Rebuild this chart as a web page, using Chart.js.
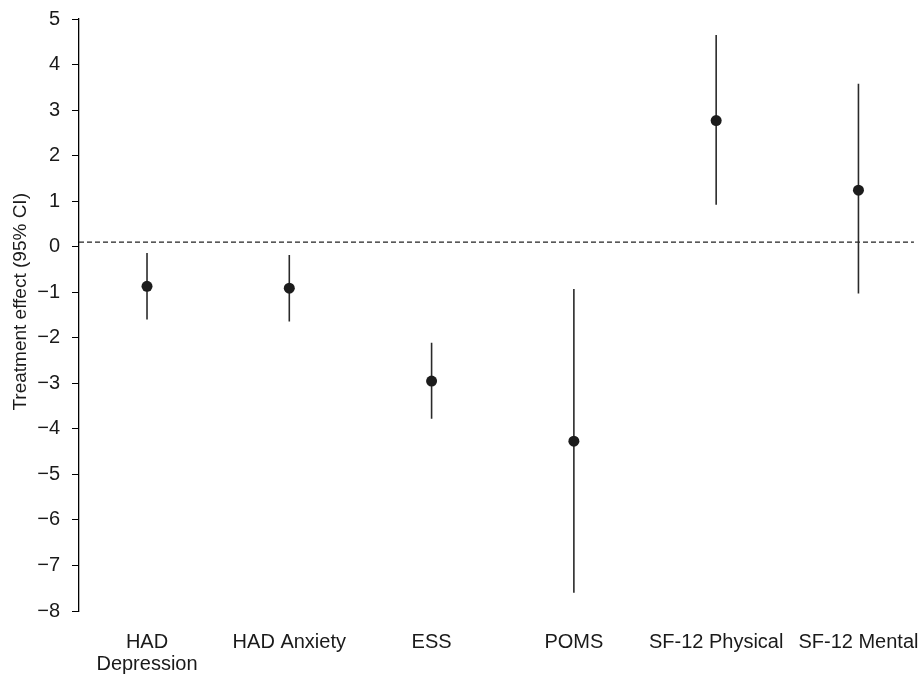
<!DOCTYPE html>
<html>
<head>
<meta charset="utf-8">
<script src="https://cdn.jsdelivr.net/npm/chart.js@4.4.1/dist/chart.umd.min.js"></script>
<style>
  html, body { margin: 0; padding: 0; background: #fff; }
  canvas { display: block; }
</style>
</head>
<body>
<canvas id="c" width="923" height="675"></canvas>
<script>
// ---- Data ----
const categories = ['HAD Depression', 'HAD Anxiety', 'ESS', 'POMS', 'SF-12 Physical', 'SF-12 Mental'];
const tickLabels = [['HAD', 'Depression'], 'HAD Anxiety', 'ESS', 'POMS', 'SF-12 Physical', 'SF-12 Mental'];
const estimates = [-0.87, -0.91, -2.95, -4.27, 2.77, 1.24];
const lowerCI   = [-1.60, -1.64, -3.78, -7.60, 0.92, -1.03];
const upperCI   = [-0.14, -0.18, -2.11, -0.93, 4.65, 3.58];
const referenceValue = 0.1;
const yMin = -8, yMax = 5, yStep = 1;
const xMin = 0.522, xMax = 6.415, refEnd = 6.39;

// ---- Build datasets ----
const pointData = categories.map((c, i) => ({ x: i + 1, y: estimates[i] }));
const ciData = [];
categories.forEach((c, i) => {
  ciData.push({ x: i + 1, y: lowerCI[i] });
  ciData.push({ x: i + 1, y: upperCI[i] });
  ciData.push({ x: i + 1, y: null });
});
const refData = [{ x: xMin, y: referenceValue }, { x: refEnd, y: referenceValue }];

const FONT = "'Liberation Sans', Arial, Helvetica, sans-serif";
const W = 923, H = 675;

new Chart(document.getElementById('c'), {
  type: 'scatter',
  data: {
    datasets: [
      {
        type: 'scatter',
        data: pointData,
        pointRadius: 5.5,
        pointHoverRadius: 5.5,
        backgroundColor: '#1c1c1c',
        borderColor: '#1c1c1c',
        borderWidth: 0
      },
      {
        type: 'line',
        data: ciData,
        borderColor: '#2a2a2a',
        borderWidth: 1.6,
        pointRadius: 0,
        spanGaps: false,
        fill: false
      },
      {
        type: 'line',
        data: refData,
        borderColor: '#222',
        borderWidth: 1.2,
        borderDash: [5, 3],
        pointRadius: 0,
        fill: false
      }
    ]
  },
  options: {
    responsive: false,
    animation: false,
    devicePixelRatio: 1,
    layout: { padding: { top: 19, right: 0, left: 0, bottom: 0 } },
    plugins: { legend: { display: false }, tooltip: { enabled: false } },
    scales: {
      x: {
        type: 'linear',
        min: xMin,
        max: xMax,
        afterBuildTicks: (scale) => {
          scale.ticks = categories.map((c, i) => ({ value: i + 1 }));
        },
        afterFit: (scale) => {
          scale.height = H - 611;
          scale.paddingLeft = 0;
          scale.paddingRight = 0;
        },
        grid: { display: false },
        border: { display: false },
        ticks: {
          autoSkip: false,
          maxRotation: 0,
          padding: 12,
          color: '#1a1a1a',
          font: { family: FONT, size: 20, lineHeight: 1.1 },
          callback: (v) => tickLabels[Math.round(v) - 1]
        }
      },
      y: {
        type: 'linear',
        min: yMin,
        max: yMax,
        afterFit: (scale) => {
          scale.width = 79;
          scale.paddingTop = 0;
          scale.paddingBottom = 0;
        },
        grid: {
          drawOnChartArea: false,
          drawTicks: true,
          tickLength: 7,
          color: '#000',
          lineWidth: 1
        },
        border: { display: true, color: '#000', width: 1.3 },
        ticks: {
          stepSize: yStep,
          padding: 12,
          color: '#1a1a1a',
          font: { family: FONT, size: 20 },
          callback: (v) => (v < 0 ? '\u2212' + Math.abs(v) : String(v))
        },
        title: {
          display: true,
          text: '     Treatment effect (95% CI)',
          color: '#1a1a1a',
          font: { family: FONT, size: 19 },
          padding: { top: 9, bottom: 4 }
        }
      }
    }
  }
});
</script>
</body>
</html>
